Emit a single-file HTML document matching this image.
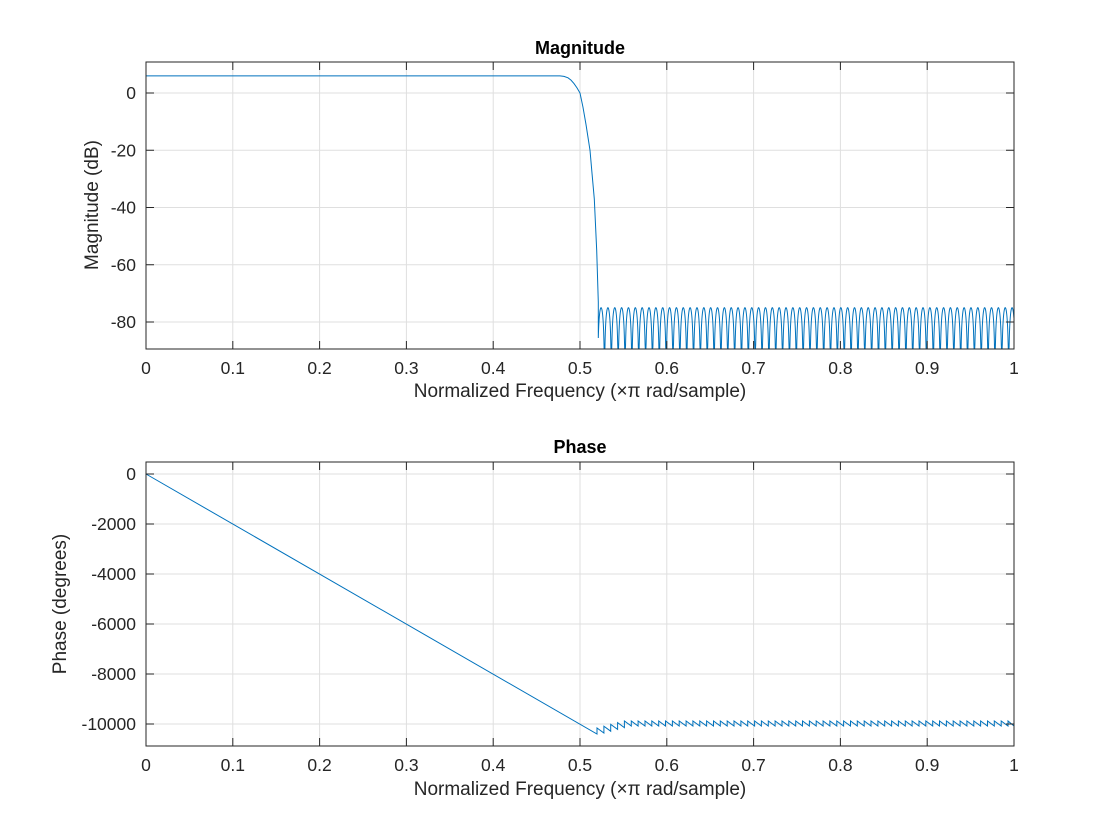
<!DOCTYPE html>
<html><head><meta charset="utf-8"><style>
html,body{margin:0;padding:0;background:#fff;}
svg{display:block;font-family:"Liberation Sans",Arial,sans-serif;}
</style></head><body>
<svg id="s" width="1120" height="840" viewBox="0 0 1120 840" xmlns="http://www.w3.org/2000/svg">
<rect width="1120" height="840" fill="#fff"/>
<g id="grid" stroke="#dfdfdf" stroke-width="1"></g>
<path id="mag" fill="none" stroke="#0072bd" stroke-width="1"/>
<path id="ph" fill="none" stroke="#0072bd" stroke-width="1"/>
<g id="axes" stroke="#262626" stroke-width="1" fill="none"></g>
<g id="lab" fill="#262626" font-size="17.5"></g>
<text x="580" y="54" text-anchor="middle" font-weight="bold" font-size="18" fill="#000">Magnitude</text>
<text x="580" y="453" text-anchor="middle" font-weight="bold" font-size="18" fill="#000">Phase</text>
<text x="580" y="397" text-anchor="middle" font-size="19" fill="#262626">Normalized Frequency  (×π rad/sample)</text>
<text x="580" y="795" text-anchor="middle" font-size="19" fill="#262626">Normalized Frequency  (×π rad/sample)</text>
<text transform="translate(98,205) rotate(-90)" text-anchor="middle" font-size="19" fill="#262626">Magnitude (dB)</text>
<text transform="translate(66,604) rotate(-90)" text-anchor="middle" font-size="19" fill="#262626">Phase (degrees)</text>
</svg>
<script>
var X0=146,X1=1014;
var g=document.getElementById('grid'),a=document.getElementById('axes'),l=document.getElementById('lab');
function el(p,t,at,txt){var e=document.createElementNS('http://www.w3.org/2000/svg',t);for(var k in at)e.setAttribute(k,at[k]);if(txt!=null)e.textContent=txt;p.appendChild(e);return e;}
function axes(top,bot,yt){
 for(var i=0;i<=10;i++){var x=X0+(X1-X0)*i/10;
  el(g,'line',{x1:x,x2:x,y1:top,y2:bot});
  el(a,'line',{x1:x,x2:x,y1:bot,y2:bot-8});el(a,'line',{x1:x,x2:x,y1:top,y2:top+8});
  el(l,'text',{x:x,y:bot+25,'text-anchor':'middle'},i==0?'0':i==10?'1':'0.'+i);}
 yt.forEach(function(t){el(g,'line',{x1:X0,x2:X1,y1:t[0],y2:t[0]});
  el(a,'line',{x1:X0,x2:X0+8,y1:t[0],y2:t[0]});el(a,'line',{x1:X1,x2:X1-8,y1:t[0],y2:t[0]});
  el(l,'text',{x:X0-10,y:t[0]+6,'text-anchor':'end'},t[1]);});
 el(a,'rect',{x:X0,y:top,width:X1-X0,height:bot-top});
}
var my=[];for(var i=0;i<5;i++)my.push([93+57.25*i,i==0?'0':'-'+(20*i)]);
axes(62,349,my);
var py=[];for(var i=0;i<6;i++)py.push([474+50*i,i==0?'0':'-'+(2000*i)]);
axes(462,746,py);
function dby(d){return 93-d*2.8625;}
var pts=[[146,6],[560,6],[564,5.8],[568,5.3],[571,4.5],[574,3.3],[577,1.8],[580,0],[583,-5],[586,-11],[588,-15.5],[590,-20],[592,-28],[594.3,-37],[596.7,-55],[598.3,-73]];
var d='M'+pts.map(function(p){return p[0]+','+dby(p[1]).toFixed(2);}).join(' L');
var P=6.85,xs=598.3;
for(var x=xs;x<=X1;x+=0.2){var s=Math.abs(Math.sin(Math.PI*(x-xs)/P+0.3));var v=-75+20*Math.log10(Math.max(s,1e-6));var y=Math.min(dby(v),349);d+=' L'+x.toFixed(2)+','+y.toFixed(2);}
document.getElementById('mag').setAttribute('d',d);
var d2='M146,474 L597,734';
var x=597,n=0;
while(x<X1){var base=n<4?731-n*1.8:724;d2+=' L'+x.toFixed(1)+','+(base-3).toFixed(1);x+=P;if(x>X1)x=X1;d2+=' L'+x.toFixed(1)+','+(base+2).toFixed(1);n++;}
document.getElementById('ph').setAttribute('d',d2);
</script>
</body></html>
